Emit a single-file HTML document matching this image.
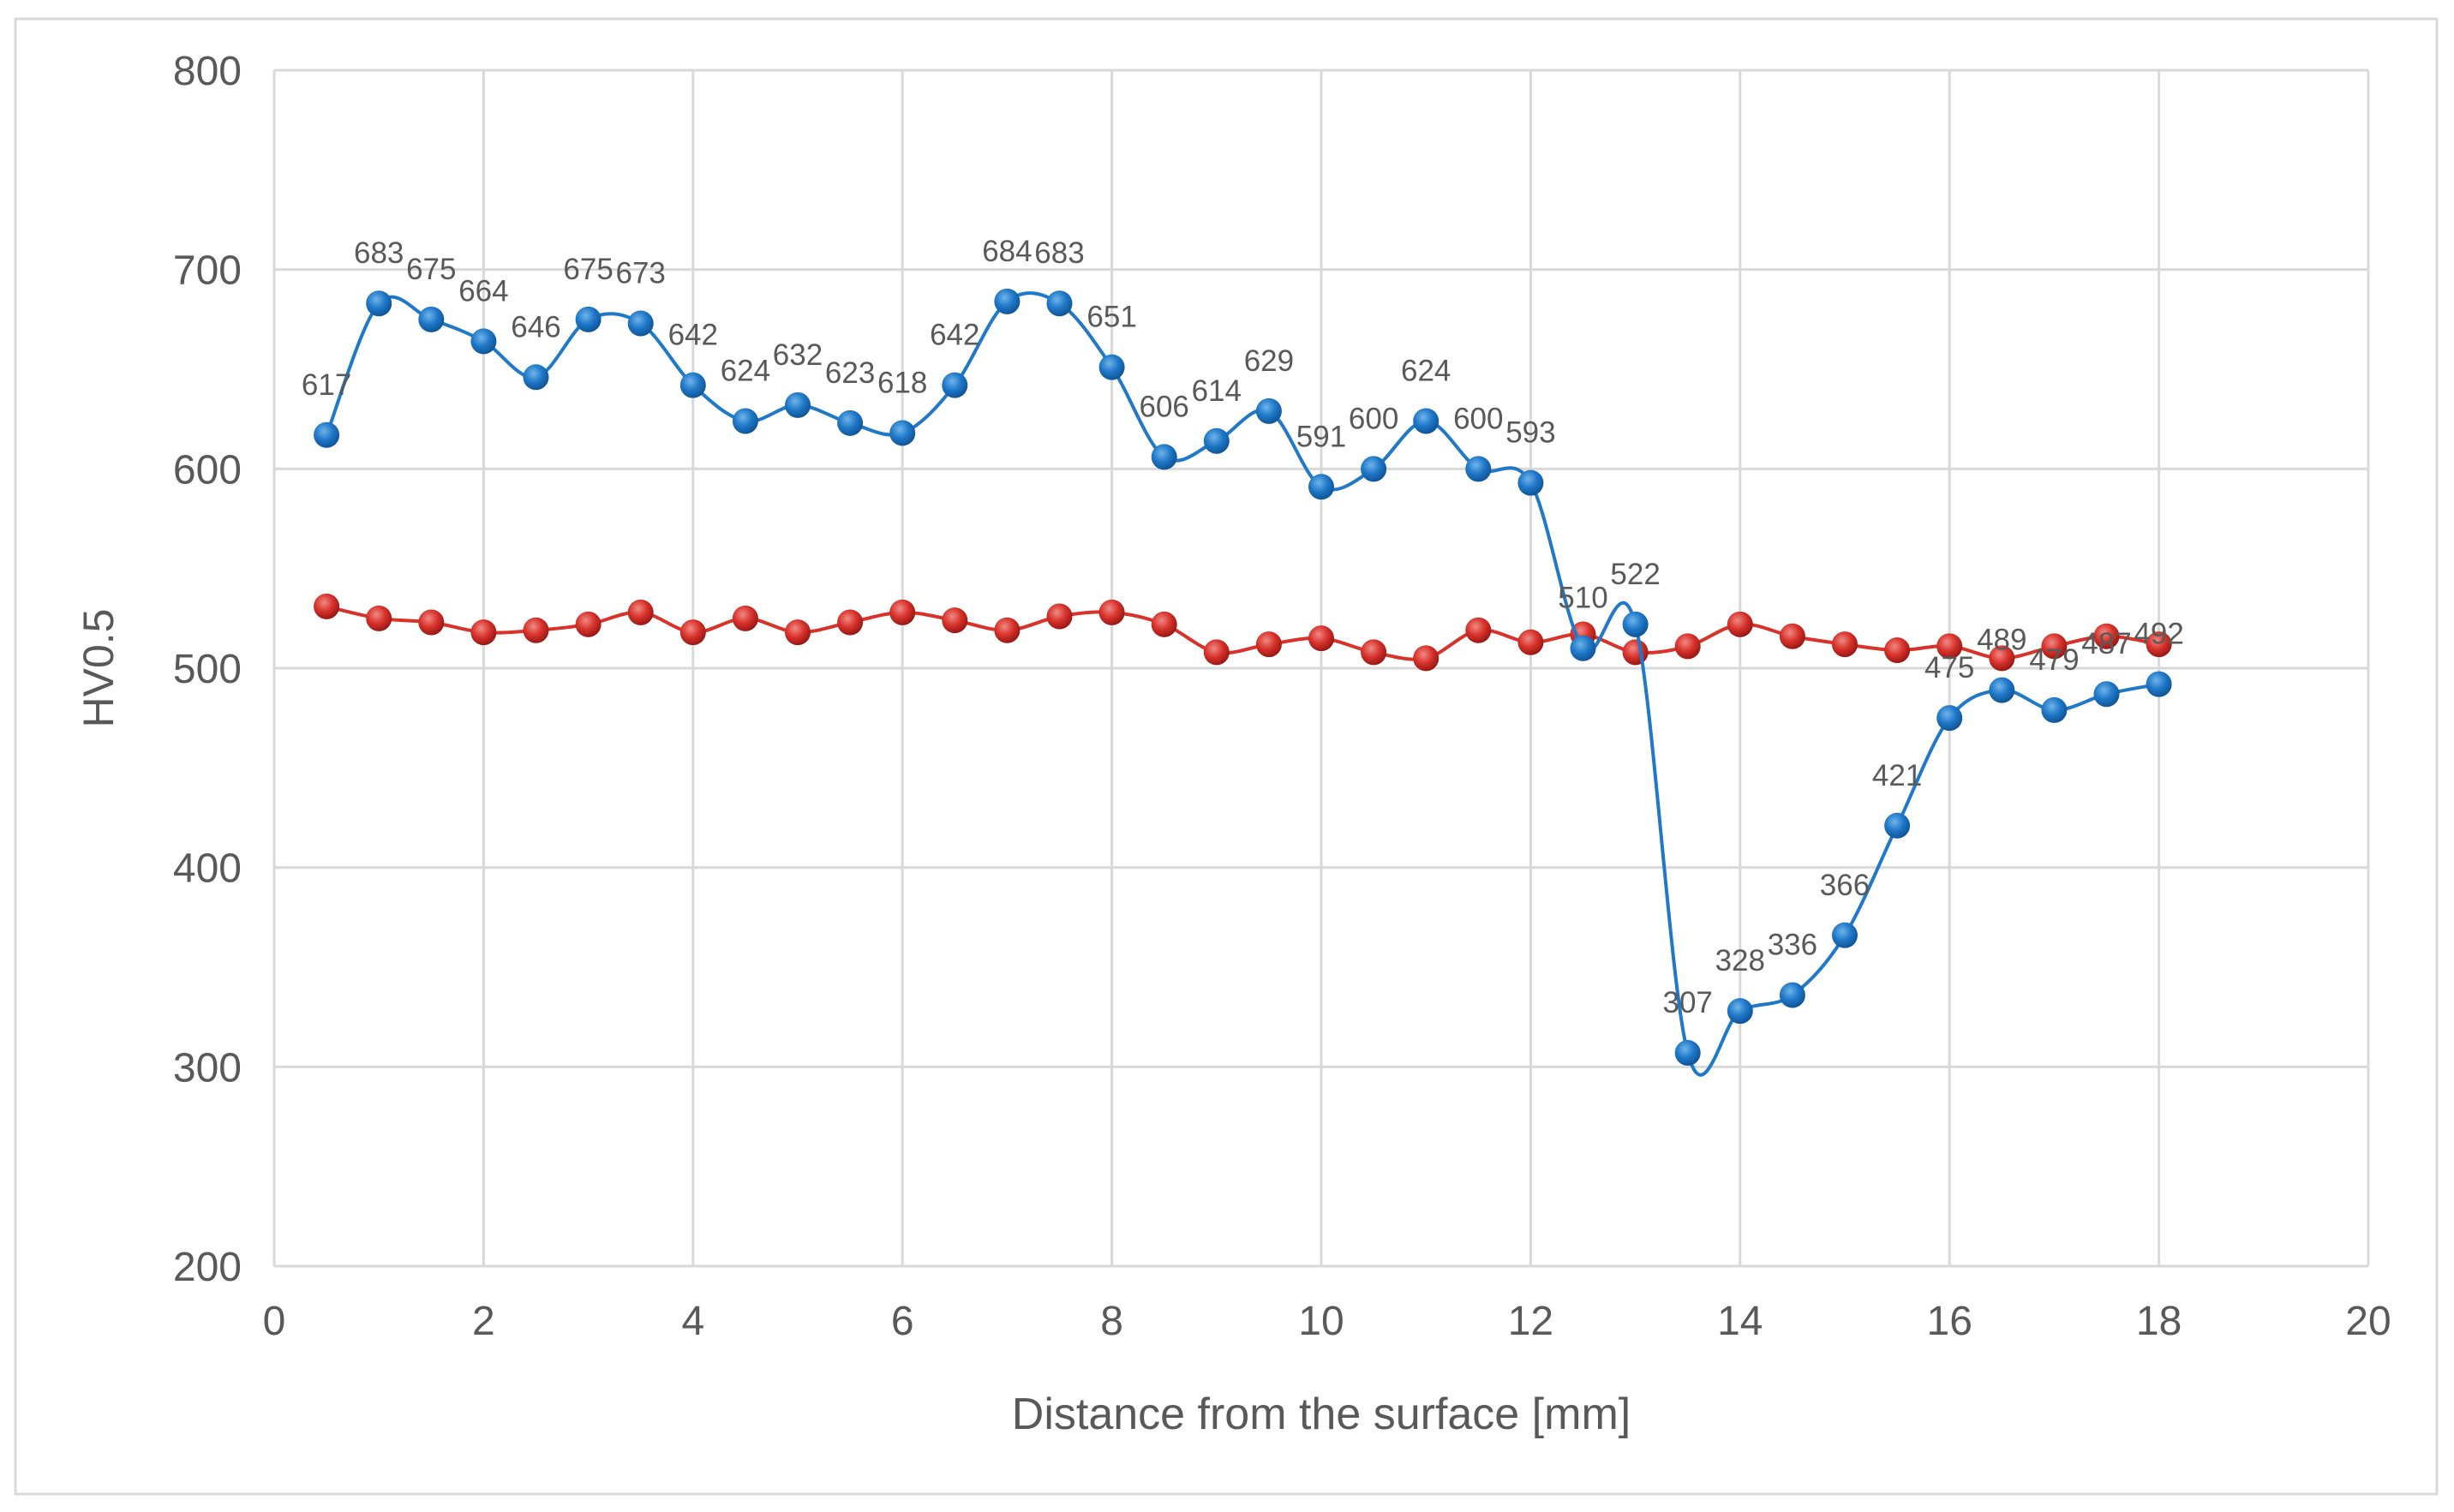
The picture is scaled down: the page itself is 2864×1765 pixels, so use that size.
<!DOCTYPE html>
<html><head><meta charset="utf-8"><style>
html,body{margin:0;padding:0;background:#fff}
svg{display:block}
text{font-family:"Liberation Sans",sans-serif}
</style></head><body>
<svg id="chart" width="2864" height="1765" viewBox="0 0 2864 1765" xmlns="http://www.w3.org/2000/svg">
<defs>
<radialGradient id="gb" cx="0.4" cy="0.35" r="0.7"><stop offset="0" stop-color="#6fb4ea"/><stop offset="0.5" stop-color="#1f78c8"/><stop offset="1" stop-color="#0d4f8f"/></radialGradient>
<radialGradient id="gr" cx="0.4" cy="0.35" r="0.7"><stop offset="0" stop-color="#f08a84"/><stop offset="0.5" stop-color="#d8322b"/><stop offset="1" stop-color="#8f1410"/></radialGradient>
</defs>
<rect x="18" y="22" width="2826" height="1722" fill="#fff" stroke="#d9d9d9" stroke-width="3"/>
<g id="grid"></g>
<g id="axes"></g>
<g id="series"></g>
<text transform="translate(132,780) rotate(-90)" text-anchor="middle" font-size="50" fill="#595959">HV0.5</text>
<text x="1542" y="1668" text-anchor="middle" font-size="52" fill="#595959">Distance from the surface [mm]</text>
</svg>
<script>
const xTicks=[0,2,4,6,8,10,12,14,16,18,20];
const yTicks=[200,300,400,500,600,700,800];
const xVals=[0.5,1,1.5,2,2.5,3,3.5,4,4.5,5,5.5,6,6.5,7,7.5,8,8.5,9,9.5,10,10.5,11,11.5,12,12.5,13,13.5,14,14.5,15,15.5,16,16.5,17,17.5,18];
const blueVals=[617,683,675,664,646,675,673,642,624,632,623,618,642,684,683,651,606,614,629,591,600,624,600,593,510,522,307,328,336,366,421,475,489,479,487,492];
const redVals=[531,525,523,518,519,522,528,518,525,518,523,528,524,519,526,528,522,508,512,515,508,505,519,513,517,508,511,522,516,512,509,511,505,511,516,512];
const L=320,R=2764,T=82,B=1478;
const X=v=>L+(v-0)/(20-0)*(R-L);
const Y=v=>B-(v-200)/(800-200)*(B-T);
const NS='http://www.w3.org/2000/svg';
function mk(tag,attrs,parent){const e=document.createElementNS(NS,tag);for(const k in attrs)e.setAttribute(k,attrs[k]);parent.appendChild(e);return e;}
const grid=document.getElementById('grid'),axes=document.getElementById('axes'),series=document.getElementById('series');
yTicks.forEach(t=>{
  const l=mk('line',{x1:L,x2:R,y1:Y(t),y2:Y(t),stroke:'#d9d9d9','stroke-width':3},grid);
  
  
  const tx=mk('text',{x:L-38,y:Y(t)+17,'text-anchor':'end','font-size':48,fill:'#595959'},axes);
  tx.textContent=t;
  
  
});
xTicks.forEach(t=>{
  const l=mk('line',{x1:X(t),x2:X(t),y1:T,y2:B,stroke:'#d9d9d9','stroke-width':3},grid);
  
  
  const tx=mk('text',{x:X(t),y:B+80,'text-anchor':'middle','font-size':48,fill:'#595959'},axes);
  tx.textContent=t;
  
  
});
function smooth(pts){
  let d='M'+pts[0][0]+','+pts[0][1];
  for(let i=0;i<pts.length-1;i++){
    const p0=pts[i-1]||pts[i],p1=pts[i],p2=pts[i+1],p3=pts[i+2]||p2;
    const c1=[p1[0]+(p2[0]-p0[0])/6,p1[1]+(p2[1]-p0[1])/6];
    const c2=[p2[0]-(p3[0]-p1[0])/6,p2[1]-(p3[1]-p1[1])/6];
    d+=' C'+c1[0]+','+c1[1]+' '+c2[0]+','+c2[1]+' '+p2[0]+','+p2[1];
  }
  return d;
}
function drawSeries(vals,color,grad,name,labels){
  const pts=xVals.map((x,i)=>[X(x),Y(vals[i])]);
  const p=mk('path',{d:smooth(pts),fill:'none',stroke:color,'stroke-width':4},series);
  
  
  pts.forEach((pt,i)=>{
    const c=mk('circle',{cx:pt[0],cy:pt[1],r:15,fill:'url(#'+grad+')'},series);
    
    
  });
  if(labels){pts.forEach((pt,i)=>{
    const t=mk('text',{x:pt[0],y:pt[1]-47,'text-anchor':'middle','font-size':35,fill:'#595959'},series);
    t.textContent=vals[i];
    
    
  });}
}
drawSeries(redVals,'#d8322b','gr','red-series',false);
drawSeries(blueVals,'#1f78c8','gb','blue-series',true);
</script>
</body></html>
